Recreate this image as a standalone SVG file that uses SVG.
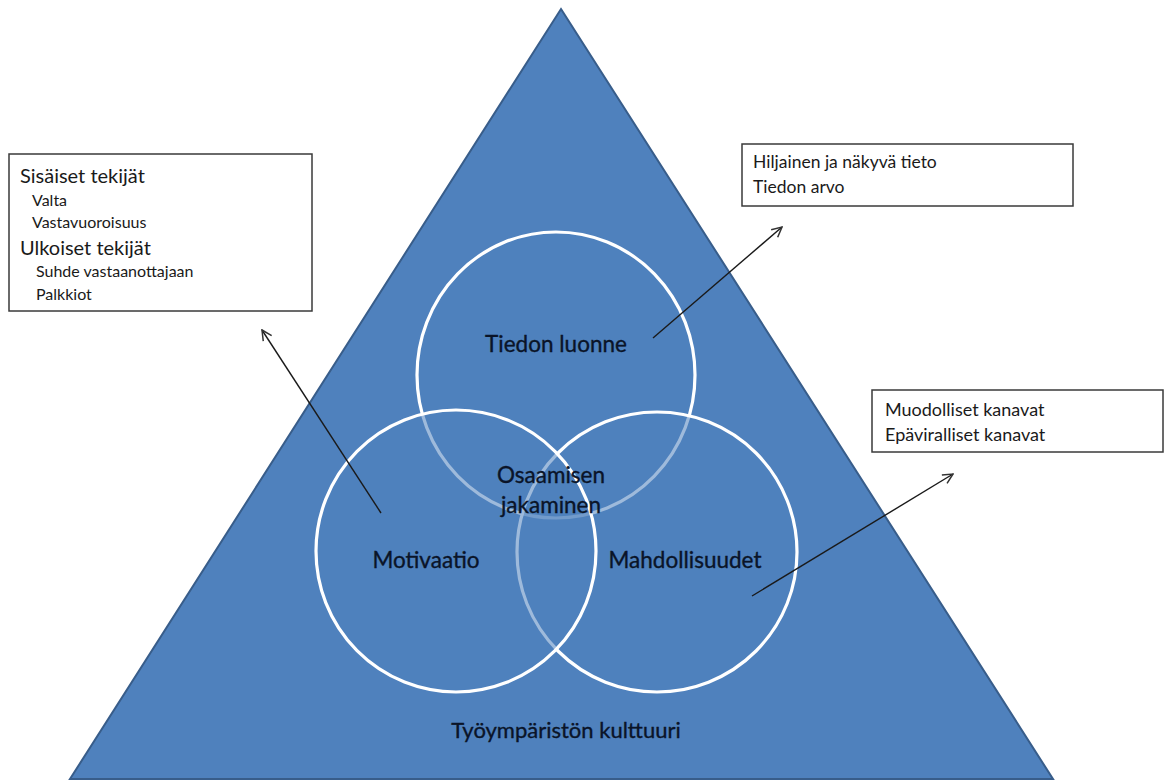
<svg xmlns="http://www.w3.org/2000/svg" width="1165" height="780" viewBox="0 0 1165 780">
  <style>
    .lbl { font-family: "Lato", "Liberation Sans", sans-serif; fill: #0a1428; stroke: #0a1428; stroke-width: 0.35; }
    .big { font-size: 22.5px; }
    .box { fill: #ffffff; stroke: #3a3a3a; stroke-width: 1.5; }
    .note { font-family: "Lato", "Liberation Sans", sans-serif; fill: #1a1a1a; }
    .ring { fill: #4f81bd; fill-opacity: 0.55; stroke: #ffffff; stroke-width: 3.2; }
    .arrow { fill: none; stroke: #1a1a1a; stroke-width: 1.4; marker-end: url(#open); }
  </style>
  <defs>
    <marker id="open" viewBox="0 0 12 12" refX="11" refY="6" markerWidth="12" markerHeight="12" markerUnits="userSpaceOnUse" orient="auto">
      <path d="M1,1 L11,6 L1,11" fill="none" stroke="#333" stroke-width="1.5"/>
    </marker>
  </defs>

  <rect width="1165" height="780" fill="#ffffff"/>

  <!-- work environment culture -->
  <g id="culture">
    <polygon points="561,9 1053,779 70,779" fill="#4f81bd" stroke="#385d8a" stroke-width="2"/>
    <text class="lbl" x="566" y="738" text-anchor="middle" font-size="22">Työympäristön kulttuuri</text>
  </g>

  <!-- Venn circles -->
  <g id="tiedon-luonne">
    <ellipse class="ring" cx="556" cy="375" rx="139" ry="143"/>
    <text class="lbl big" x="556" y="352" text-anchor="middle">Tiedon luonne</text>
  </g>
  <g id="mahdollisuudet">
    <ellipse class="ring" cx="657" cy="552" rx="140" ry="140"/>
    <text class="lbl big" x="685" y="568" text-anchor="middle">Mahdollisuudet</text>
  </g>
  <g id="motivaatio">
    <ellipse class="ring" cx="456" cy="551" rx="140" ry="141"/>
    <text class="lbl big" x="426" y="568" text-anchor="middle">Motivaatio</text>
  </g>
  <g id="osaamisen-jakaminen">
    <text class="lbl big" x="551" y="483" text-anchor="middle">Osaamisen</text>
    <text class="lbl big" x="551" y="513" text-anchor="middle">jakaminen</text>
  </g>

  <!-- note boxes -->
  <g id="tekijat">
    <rect class="box" x="9" y="154" width="303" height="157"/>
    <text class="note" x="20" y="183" font-size="20">Sisäiset tekijät</text>
    <text class="note" x="32" y="206" font-size="16">Valta</text>
    <text class="note" x="32" y="228" font-size="16">Vastavuoroisuus</text>
    <text class="note" x="20" y="255" font-size="20">Ulkoiset tekijät</text>
    <text class="note" x="36" y="277" font-size="16">Suhde vastaanottajaan</text>
    <text class="note" x="36" y="300" font-size="16">Palkkiot</text>
  </g>
  <g id="tieto">
    <rect class="box" x="742" y="144" width="331" height="62"/>
    <text class="note" x="753" y="168" font-size="17.5">Hiljainen ja näkyvä tieto</text>
    <text class="note" x="753" y="193" font-size="17.5">Tiedon arvo</text>
  </g>
  <g id="kanavat">
    <rect class="box" x="872" y="390" width="291" height="62"/>
    <text class="note" x="885" y="416" font-size="18">Muodolliset kanavat</text>
    <text class="note" x="885" y="441" font-size="18">Epäviralliset kanavat</text>
  </g>

  <!-- connectors -->
  <g id="connectors">
    <line class="arrow" x1="381" y1="513" x2="262" y2="330"/>
    <line class="arrow" x1="653" y1="338" x2="782" y2="227"/>
    <line class="arrow" x1="752" y1="596" x2="953" y2="474"/>
  </g>
</svg>
